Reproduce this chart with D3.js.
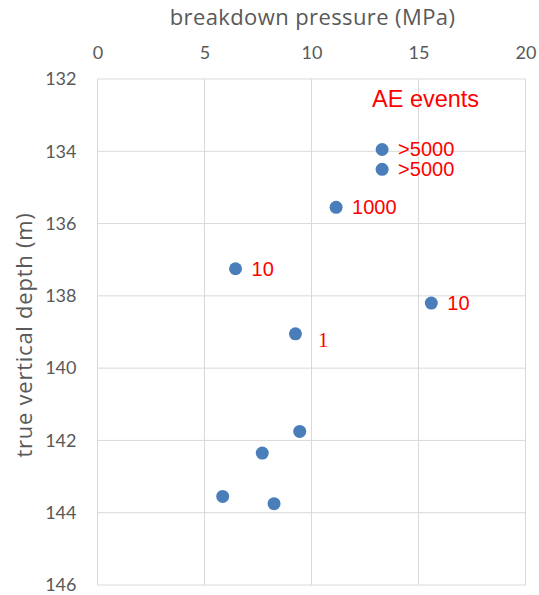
<!DOCTYPE html>
<html>
<head>
<meta charset="utf-8">
<script src="https://cdn.jsdelivr.net/npm/d3@7"></script>
<style>
  html, body { margin: 0; padding: 0; background: #fff; }
  svg { display: block; }
</style>
</head>
<body>
<svg id="chart" width="539" height="595"></svg>
<script>
// Breakdown pressure (MPa) measured at each true vertical depth (m)
const pressure = [13.3, 13.3, 11.15, 6.45, 15.6, 9.25, 9.45, 7.7, 5.85, 8.25];
const depth    = [133.95, 134.5, 135.55, 137.25, 138.2, 139.05, 141.75, 142.35, 143.55, 143.75];
// Acoustic emission event counts attached to some of the tests
const aeEvents = [">5000", ">5000", "1000", "10", "10", "1", "", "", "", ""];

const xTicks = [0, 5, 10, 15, 20];
const yTicks = [132, 134, 136, 138, 140, 142, 144, 146];

const svg = d3.select("#chart");
const margin = { left: 97.5, right: 539 - 525.5, top: 79, bottom: 595 - 585 };
const W = 539, H = 595;

const x = d3.scaleLinear().domain([0, 20]).range([margin.left, W - margin.right]);
const y = d3.scaleLinear().domain([132, 146]).range([margin.top, H - margin.bottom]);

const grey = "#595959";
const gridColor = "#d9d9d9";
const labelFont = "Lato, 'Open Sans', sans-serif";
const titleFont = "'Open Sans', Lato, sans-serif";

// Grid
svg.append("g")
  .selectAll("line.v")
  .data(xTicks)
  .join("line")
  .attr("x1", d => x(d)).attr("x2", d => x(d))
  .attr("y1", y(132)).attr("y2", y(146))
  .attr("stroke", gridColor).attr("stroke-width", 1);

svg.append("g")
  .selectAll("line.h")
  .data(yTicks)
  .join("line")
  .attr("x1", x(0)).attr("x2", x(20))
  .attr("y1", d => y(d)).attr("y2", d => y(d))
  .attr("stroke", gridColor).attr("stroke-width", 1);

// Top axis (pressure)
const xAxis = svg.append("g")
  .attr("transform", `translate(0,${margin.top})`)
  .call(d3.axisTop(x).tickValues(xTicks).tickSize(0).tickPadding(20));
xAxis.select(".domain").remove();
xAxis.selectAll("text")
  .attr("fill", grey).attr("font-size", 18).attr("font-family", labelFont);

// Left axis (depth, increasing downward)
const yAxis = svg.append("g")
  .attr("transform", `translate(${margin.left},0)`)
  .call(d3.axisLeft(y).tickValues(yTicks).tickSize(0).tickPadding(21));
yAxis.select(".domain").remove();
yAxis.selectAll("text")
  .attr("fill", grey).attr("font-size", 18).attr("font-family", labelFont);

// Axis titles
svg.append("text")
  .attr("x", 312.5)
  .attr("y", 25)
  .attr("text-anchor", "middle")
  .attr("fill", grey)
  .attr("font-size", 22)
  .attr("letter-spacing", 0.4)
  .attr("font-family", titleFont)
  .text("breakdown pressure (MPa)");

svg.append("text")
  .attr("transform", `translate(31.5,335) rotate(-90)`)
  .attr("text-anchor", "middle")
  .attr("fill", grey)
  .attr("font-size", 22)
  .attr("letter-spacing", 0.75)
  .attr("font-family", titleFont)
  .text("true vertical depth (m)");

// Points
const pts = d3.range(pressure.length).map(i => ({ p: pressure[i], d: depth[i], ae: aeEvents[i] }));

svg.append("g")
  .selectAll("circle")
  .data(pts)
  .join("circle")
  .attr("cx", d => x(d.p))
  .attr("cy", d => y(d.d))
  .attr("r", 6.5)
  .attr("fill", "#4a7ebb");

// AE event labels
svg.append("g")
  .selectAll("text")
  .data(pts.filter(d => d.ae !== ""))
  .join("text")
  .attr("x", d => x(d.p) + (d.ae === "1" ? 22.5 : 16))
  .attr("y", d => y(d.d) + (d.ae === "1" ? 13 : 7))
  .attr("fill", "#ff0000")
  .attr("font-size", d => d.ae === "1" ? 21 : 20)
  .attr("font-family", d => d.ae === "1" ? "'Liberation Serif', 'Times New Roman', serif" : "'Liberation Sans', Arial, sans-serif")
  .text(d => d.ae);

svg.append("text")
  .attr("x", 372)
  .attr("y", 106.5)
  .attr("fill", "#ff0000")
  .attr("font-size", 23.5)
  .attr("font-family", "'Liberation Sans', Arial, sans-serif")
  .text("AE events");
</script>
</body>
</html>
